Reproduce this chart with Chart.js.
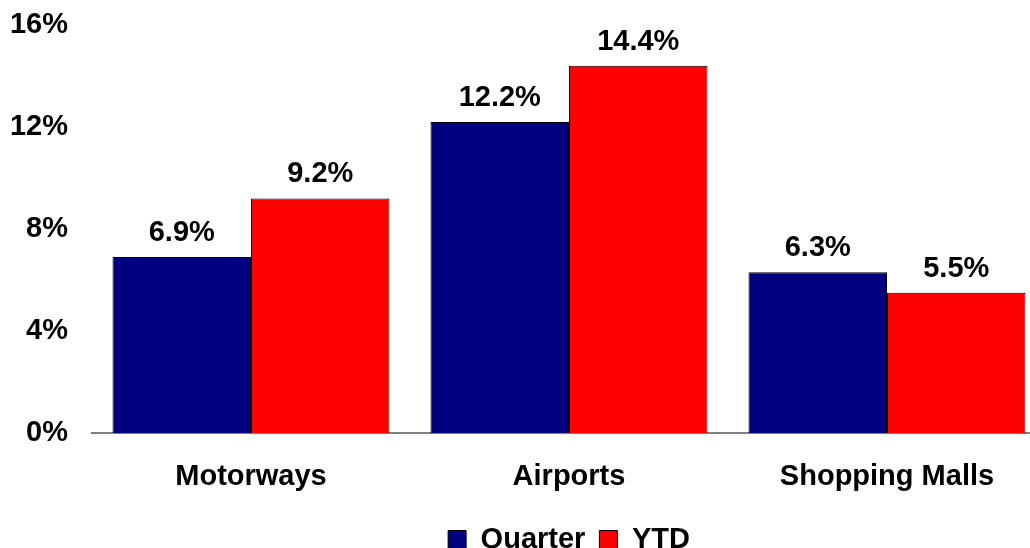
<!DOCTYPE html>
<html>
<head>
<meta charset="utf-8">
<script src="https://cdn.jsdelivr.net/npm/chart.js@4.4.1/dist/chart.umd.min.js"></script>
<style>
    html, body { margin: 0; padding: 0; background: #ffffff; overflow: hidden; }
    #wrap { width: 1046px; height: 564px; }
</style>
</head>
<body>
<div id="wrap"><canvas id="growthChart" width="1046" height="564"></canvas></div>
<script>
// 카테고리 / 시리즈 값
const categories = ['Motorways', 'Airports', 'Shopping Malls'];
const quarterValues = [6.9, 12.2, 6.3];
const ytdValues = [9.2, 14.4, 5.5];
const yTicks = [0, 4, 8, 12, 16];

const FONT = '"Liberation Sans", Arial, Helvetica, sans-serif';
const FONT_SIZE = 29;

// 막대 위에 값 라벨 그리기
const valueLabels = {
    id: 'valueLabels',
    afterDatasetsDraw(chart) {
        const ctx = chart.ctx;
        ctx.save();
        ctx.font = `bold ${FONT_SIZE}px ${FONT}`;
        ctx.fillStyle = '#000000';
        ctx.textAlign = 'center';
        ctx.textBaseline = 'alphabetic';
        chart.data.datasets.forEach((ds, i) => {
            chart.getDatasetMeta(i).data.forEach((bar, j) => {
                ctx.fillText(ds.data[j].toFixed(1) + '%', bar.x, bar.y - 16);
            });
        });
        ctx.restore();
    }
};

new Chart(document.getElementById('growthChart').getContext('2d'), {
    type: 'bar',
    data: {
        labels: categories,
        datasets: [
            {
                label: 'Quarter',
                data: quarterValues,
                backgroundColor: '#000080',
                borderColor: '#000000',
                borderWidth: 1,
                categoryPercentage: 0.871,
                barPercentage: 1.0
            },
            {
                label: 'YTD',
                data: ytdValues,
                backgroundColor: '#ff0000',
                borderColor: '#000000',
                borderWidth: 1,
                categoryPercentage: 0.871,
                barPercentage: 1.0
            }
        ]
    },
    options: {
        responsive: false,
        animation: false,
        layout: { padding: { top: 25, left: 0, right: 0, bottom: 0 } },
        plugins: {
            legend: {
                position: 'bottom',
                fullSize: false,
                labels: {
                    boxWidth: 18,
                    boxHeight: 18,
                    padding: 14,
                    color: '#000000',
                    font: { family: FONT, size: FONT_SIZE, weight: 'bold' }
                }
            },
            tooltip: { enabled: false }
        },
        scales: {
            x: {
                afterFit: (scale) => { scale.height = 78; },
                grid: { display: false, drawTicks: false },
                border: { display: true, color: '#808080', width: 2 },
                ticks: {
                    padding: 27,
                    color: '#000000',
                    maxRotation: 0,
                    font: { family: FONT, size: FONT_SIZE, weight: 'bold' }
                }
            },
            y: {
                min: 0,
                max: 16,
                afterFit: (scale) => {
                    scale.width = 92;
                    // 위쪽 여백은 layout.padding 으로만 잡음
                    scale.paddingTop = 0;
                    scale.paddingBottom = 0;
                },
                afterBuildTicks: (scale) => { scale.ticks = yTicks.map(v => ({ value: v })); },
                grid: { display: false, drawTicks: false },
                border: { display: false },
                ticks: {
                    padding: 24,
                    color: '#000000',
                    font: { family: FONT, size: FONT_SIZE, weight: 'bold' },
                    callback: (v) => v + '%'
                }
            }
        }
    },
    plugins: [valueLabels]
});
</script>
</body>
</html>
